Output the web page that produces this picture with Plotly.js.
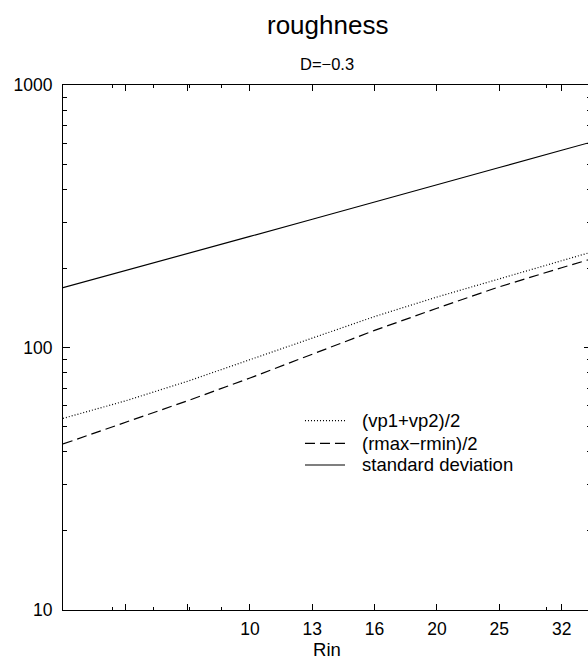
<!DOCTYPE html>
<html>
<head>
<meta charset="utf-8">
<script src="https://cdn.plot.ly/plotly-3.0.1.min.js"></script>
<style>
html,body{margin:0;padding:0;overflow:hidden;background:#fff;}
#chart{width:592px;height:663px;}
</style>
</head>
<body>
<div id="chart"></div>
<script>
// Data (log-log)
const rin = [5, 6.3, 7.94, 10, 12.6, 15.87, 20, 25.2, 31.75, 40];
const vpAvg = [53.7, 62.6, 74.4, 90, 109.2, 131.2, 155.7, 182.7, 214, 251];
const rRange = [42.9, 51.7, 62.7, 76.5, 94.6, 116.2, 141.1, 170.3, 201.3, 237];
const stdDev = [169, 196, 228, 265, 308, 359, 417, 485, 564, 656];

const seriesNames = ['(vp1+vp2)/2', '(rmax\u2212rmin)/2', 'standard deviation'];
const seriesDash = ['1px,2px', '10px,5px', 'solid'];
const xTickVals = [5, 6.3, 7.94, 10, 12.6, 15.87, 20, 25.2, 31.75];
const xTickText = ['', '', '', '10', '13', '16', '20', '25', '32'];
const yTickVals = [10, 100, 1000];
const yTickText = ['10', '100', '1000'];

const FONT = 'Liberation Sans, Arial, Helvetica, sans-serif';
const seriesY = [vpAvg, rRange, stdDev];

const traces = seriesY.map((ys, i) => ({
  x: rin, y: ys, name: seriesNames[i], mode: 'lines', showlegend: false,
  line: {color: '#000', width: 1.2, dash: seriesDash[i]}
}));

// Manual legend (tighter row spacing like the reference)
const legendRowY = [0.3606, 0.3175, 0.2762];
const legendShapes = seriesNames.map((n, i) => ({
  type: 'line', xref: 'paper', yref: 'paper',
  x0: 0.4583, x1: 0.5341, y0: legendRowY[i], y1: legendRowY[i],
  line: {color: '#000', width: 1.2, dash: seriesDash[i]}
}));
const legendTexts = seriesNames.map((n, i) => ({
  text: n, xref: 'paper', yref: 'paper', x: 0.5625, y: legendRowY[i],
  xanchor: 'left', yanchor: 'middle', showarrow: false,
  font: {family: FONT, size: 18.5, color: '#000'}
}));

const layout = {
  width: 592, height: 663,
  margin: {l: 63, r: 1, t: 85, b: 53, pad: 0},
  paper_bgcolor: '#fff', plot_bgcolor: '#fff',
  font: {family: FONT, color: '#000', size: 17},
  showlegend: false,
  xaxis: {
    type: 'log', range: [Math.log10(5), Math.log10(35.4)],
    tickmode: 'array', tickvals: xTickVals, ticktext: xTickText,
    ticks: 'inside', ticklen: 6, tickwidth: 1, tickcolor: '#000',
    minor: {ticks: 'inside', ticklen: 3, tickwidth: 1, tickcolor: '#000', dtick: 'D1'},
    showgrid: false, zeroline: false,
    showline: true, linecolor: '#000', linewidth: 1, mirror: 'allticks',
    tickfont: {family: FONT, size: 17.5, color: '#000'},
    ticklabelstandoff: 3,
    title: {text: 'Rin', font: {family: FONT, size: 18.5, color: '#000'}, standoff: 4}
  },
  yaxis: {
    type: 'log', range: [1, 3],
    tickmode: 'array', tickvals: yTickVals, ticktext: yTickText,
    ticks: 'inside', ticklen: 7, tickwidth: 1, tickcolor: '#000',
    minor: {ticks: 'inside', ticklen: 4, tickwidth: 1, tickcolor: '#000', dtick: 'D1'},
    showgrid: false, zeroline: false,
    showline: true, linecolor: '#000', linewidth: 1, mirror: 'allticks',
    tickfont: {family: FONT, size: 17.5, color: '#000'},
    ticklabelstandoff: 6
  },
  shapes: legendShapes,
  annotations: [
    {text: 'roughness', xref: 'paper', yref: 'paper', x: 0.5, y: 1.1152,
     xanchor: 'center', yanchor: 'middle', showarrow: false,
     font: {family: FONT, size: 26, color: '#000'}},
    {text: 'D=\u22120.3', xref: 'paper', yref: 'paper', x: 0.5, y: 1.04,
     xanchor: 'center', yanchor: 'middle', showarrow: false,
     font: {family: FONT, size: 16.5, color: '#000'}}
  ].concat(legendTexts)
};

Plotly.newPlot('chart', traces, layout, {displayModeBar: false, staticPlot: true});
</script>
</body>
</html>
